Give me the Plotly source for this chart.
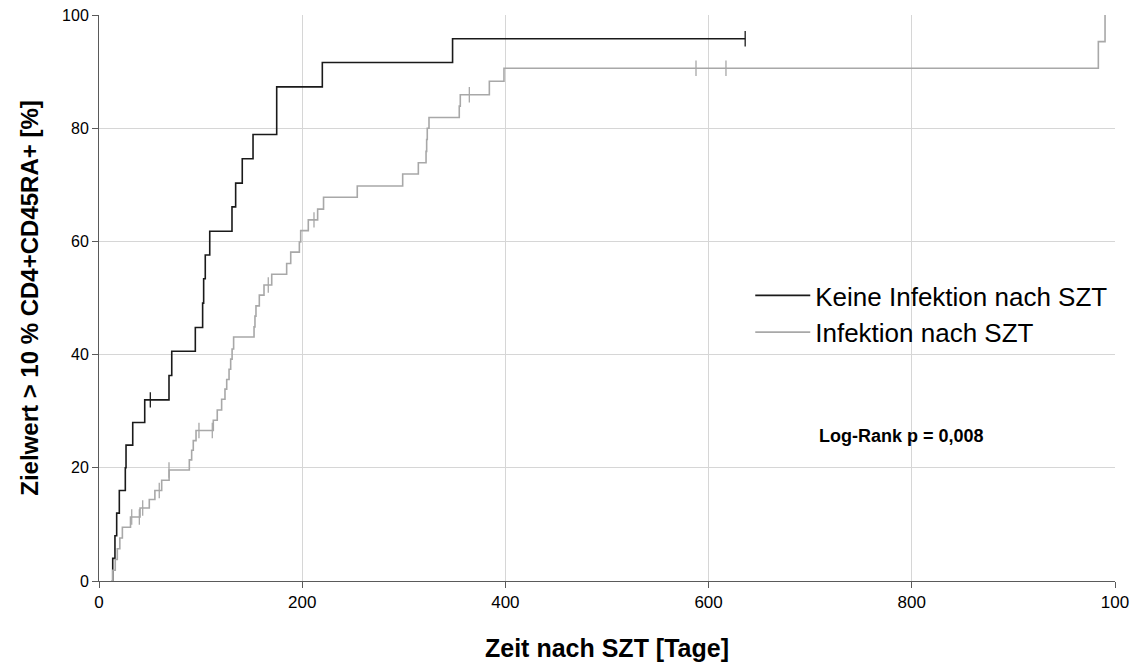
import plotly.graph_objects as go

# Black curve: Keine Infektion nach SZT (time in days, cumulative %)
black_t = [12.5, 13.5, 15.7, 17.4, 20, 25.9, 26.6, 33.2, 45, 68.9, 71.6, 94.8, 102, 103,
           104.6, 109, 130.9, 134.5, 141, 151.6, 174.9, 219.8, 348, 636]
black_y = [0, 4.0, 8.0, 12.0, 16.0, 20.0, 24.0, 28.0, 32.0, 36.3, 40.6, 44.8, 49.1, 53.4,
           57.6, 61.8, 66.1, 70.3, 74.6, 78.9, 87.3, 91.6, 95.8, 95.8]
black_cens_t = [50.5, 636]
black_cens_y = [32.0, 95.8]

# Gray curve: Infektion nach SZT
gray_t = [12.5, 13.5, 16, 18, 20.5, 23, 31, 40.4, 49.5, 55, 61.7, 69, 88.9, 91.2, 92.8, 95.5,
          112.5, 116.4, 120.7, 124, 125.7, 128, 129.6, 131, 132.5, 152.6, 153.5, 154.5, 157.8,
          162.4, 170, 184.7, 188.7, 197.2, 198.5, 206, 215.2, 221, 254.2, 298.9, 314.3, 321.9,
          322.5, 323.1, 324.8, 354.6, 355.6, 384.2, 398.6, 983.6, 990.2]
gray_y = [0, 1.9, 3.8, 5.7, 7.6, 9.5, 11.3, 12.9, 14.4, 16.0, 17.8, 19.6, 21.4, 23.1, 24.8, 26.6,
          28.4, 30.2, 32.1, 33.9, 35.6, 37.4, 39.2, 41.0, 43.1, 44.9, 46.8, 48.6, 50.5,
          52.3, 54.2, 56.1, 58.1, 59.9, 61.9, 63.8, 65.7, 67.8, 69.8, 71.9, 73.9, 75.9,
          78.0, 80.0, 81.9, 83.9, 85.9, 88.3, 90.6, 95.3, 100]
gray_cens_t = [32.2, 39.7, 43, 59.3, 68.9, 98.4, 111.5, 166.6, 211.6, 364.5, 587.6, 617.1]
gray_cens_y = [11.3, 11.3, 12.9, 16.0, 19.6, 26.6, 26.6, 52.3, 63.8, 85.9, 90.6, 90.6]

x_ticks = [0, 200, 400, 600, 800, 1000]
x_ticktext = ["0", "200", "400", "600", "800", "100"]
y_ticks = [0, 20, 40, 60, 80, 100]

BLACK = "#1a1a1a"
GRAY = "#a8a8a8"
FONT = "Liberation Sans, Arial, sans-serif"

fig = go.Figure()
fig.add_trace(go.Scatter(x=black_t, y=black_y, mode="lines", line=dict(color=BLACK, width=1.6, shape="hv"),
                         name="Keine Infektion nach SZT"))
fig.add_trace(go.Scatter(x=gray_t, y=gray_y, mode="lines", line=dict(color=GRAY, width=1.6, shape="hv"),
                         name="Infektion nach SZT"))
fig.add_trace(go.Scatter(x=black_cens_t, y=black_cens_y, mode="markers", showlegend=False,
                         marker=dict(symbol="line-ns", size=11, line=dict(color=BLACK, width=1.3))))
fig.add_trace(go.Scatter(x=gray_cens_t, y=gray_cens_y, mode="markers", showlegend=False,
                         marker=dict(symbol="line-ns", size=11, line=dict(color=GRAY, width=1.3))))

fig.add_annotation(x=0.707, y=0.256, xref="paper", yref="paper", xanchor="left", yanchor="middle",
                   text="<b>Log-Rank p = 0,008</b>", showarrow=False,
                   font=dict(family=FONT, size=18, color="#000"))

fig.update_layout(
    width=1131, height=662,
    margin=dict(l=99, r=16, t=15, b=81),
    paper_bgcolor="white", plot_bgcolor="white",
    font=dict(family=FONT, size=16, color="#000"),
    legend=dict(x=0.641, y=0.546, xanchor="left", yanchor="top", bgcolor="rgba(0,0,0,0)",
                font=dict(family=FONT, size=26, color="#000"), tracegroupgap=0, itemwidth=55),
    showlegend=True,
)
fig.update_xaxes(range=[0, 1000], tickvals=x_ticks, ticktext=x_ticktext, showgrid=True,
                 gridcolor="#d6d6d6", gridwidth=1, zeroline=False, showline=True, linecolor="#5a5a5a",
                 linewidth=1, ticks="outside", ticklen=6, tickcolor="#5a5a5a", automargin=False,
                 tickfont=dict(size=17),
                 title=dict(text="<b>Zeit nach SZT [Tage]</b>", font=dict(size=25), standoff=28))
fig.update_yaxes(range=[0, 100], tickvals=y_ticks, showgrid=True, gridcolor="#d6d6d6", gridwidth=1,
                 zeroline=False, showline=True, linecolor="#5a5a5a", linewidth=1, ticks="outside",
                 ticklen=6, tickcolor="#5a5a5a", tickfont=dict(size=16), automargin=False,
                 title=dict(text="<b>Zielwert > 10 % CD4+CD45RA+ [%]</b>", font=dict(size=24), standoff=16))

fig.write_html("out.html")
